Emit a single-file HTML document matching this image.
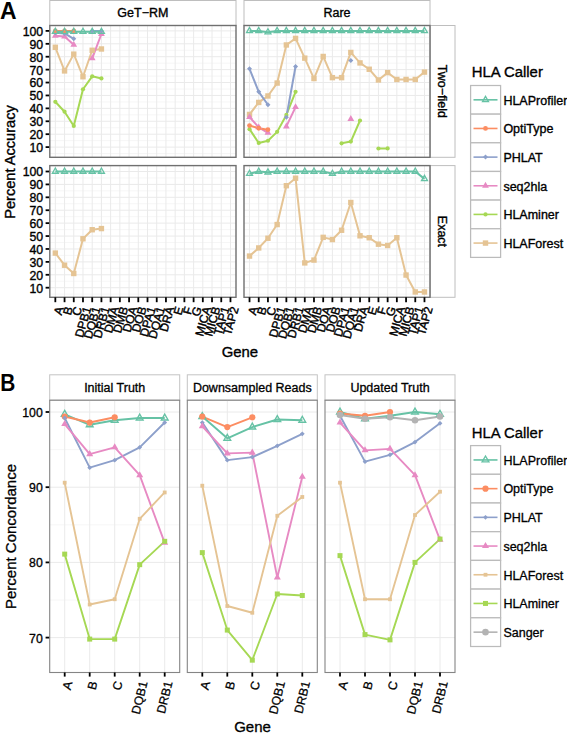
<!DOCTYPE html><html><head><meta charset="utf-8"><style>html,body{margin:0;padding:0;background:#fff;overflow:hidden}svg{display:block}text{font-family:"Liberation Sans",sans-serif;fill:#000}.ta{stroke:#000;stroke-width:0.35px}.tb{stroke:#000;stroke-width:0.3px}.bold{font-weight:bold}.tax{stroke:#000;stroke-width:0.4px}.tbx{stroke:#000;stroke-width:0.25px}</style></head><body>
<svg width="567" height="733" viewBox="0 0 567 733">
<rect width="567" height="733" fill="#fff"/>
<text transform="translate(0.1,19.4) scale(0.95,1)" font-size="24.2" class="bold">A</text>
<rect x="49.8" y="0.5" width="186.2" height="25" fill="#fff" stroke="#BEBEBE" stroke-width="1"/>
<text x="142.9" y="17.3" font-size="12.5" class="ta" text-anchor="middle">GeT−RM</text>
<rect x="244" y="0.5" width="186" height="25" fill="#fff" stroke="#BEBEBE" stroke-width="1"/>
<text x="337" y="17.3" font-size="12.5" class="ta" text-anchor="middle">Rare</text>
<rect x="430.2" y="25.5" width="24.8" height="131.8" fill="#fff" stroke="#BEBEBE" stroke-width="1"/>
<text transform="translate(438.2,91.4) rotate(90)" font-size="12.5" class="ta" text-anchor="middle">Two−field</text>
<rect x="430.2" y="165.6" width="24.8" height="131.7" fill="#fff" stroke="#BEBEBE" stroke-width="1"/>
<text transform="translate(438.2,231.45) rotate(90)" font-size="12.5" class="ta" text-anchor="middle">Exact</text>
<line x1="49.8" y1="153.55" x2="236" y2="153.55" stroke="#F4F4F4" stroke-width="0.8"/>
<line x1="49.8" y1="140.64" x2="236" y2="140.64" stroke="#F4F4F4" stroke-width="0.8"/>
<line x1="49.8" y1="127.73" x2="236" y2="127.73" stroke="#F4F4F4" stroke-width="0.8"/>
<line x1="49.8" y1="114.82" x2="236" y2="114.82" stroke="#F4F4F4" stroke-width="0.8"/>
<line x1="49.8" y1="101.91" x2="236" y2="101.91" stroke="#F4F4F4" stroke-width="0.8"/>
<line x1="49.8" y1="89" x2="236" y2="89" stroke="#F4F4F4" stroke-width="0.8"/>
<line x1="49.8" y1="76.09" x2="236" y2="76.09" stroke="#F4F4F4" stroke-width="0.8"/>
<line x1="49.8" y1="63.18" x2="236" y2="63.18" stroke="#F4F4F4" stroke-width="0.8"/>
<line x1="49.8" y1="50.27" x2="236" y2="50.27" stroke="#F4F4F4" stroke-width="0.8"/>
<line x1="49.8" y1="37.36" x2="236" y2="37.36" stroke="#F4F4F4" stroke-width="0.8"/>
<line x1="49.8" y1="147.1" x2="236" y2="147.1" stroke="#EAEAEA" stroke-width="1"/>
<line x1="49.8" y1="134.19" x2="236" y2="134.19" stroke="#EAEAEA" stroke-width="1"/>
<line x1="49.8" y1="121.28" x2="236" y2="121.28" stroke="#EAEAEA" stroke-width="1"/>
<line x1="49.8" y1="108.37" x2="236" y2="108.37" stroke="#EAEAEA" stroke-width="1"/>
<line x1="49.8" y1="95.45" x2="236" y2="95.45" stroke="#EAEAEA" stroke-width="1"/>
<line x1="49.8" y1="82.54" x2="236" y2="82.54" stroke="#EAEAEA" stroke-width="1"/>
<line x1="49.8" y1="69.63" x2="236" y2="69.63" stroke="#EAEAEA" stroke-width="1"/>
<line x1="49.8" y1="56.72" x2="236" y2="56.72" stroke="#EAEAEA" stroke-width="1"/>
<line x1="49.8" y1="43.81" x2="236" y2="43.81" stroke="#EAEAEA" stroke-width="1"/>
<line x1="49.8" y1="30.9" x2="236" y2="30.9" stroke="#EAEAEA" stroke-width="1"/>
<line x1="55.33" y1="25.5" x2="55.33" y2="157.3" stroke="#EAEAEA" stroke-width="1"/>
<line x1="64.55" y1="25.5" x2="64.55" y2="157.3" stroke="#EAEAEA" stroke-width="1"/>
<line x1="73.77" y1="25.5" x2="73.77" y2="157.3" stroke="#EAEAEA" stroke-width="1"/>
<line x1="82.98" y1="25.5" x2="82.98" y2="157.3" stroke="#EAEAEA" stroke-width="1"/>
<line x1="92.2" y1="25.5" x2="92.2" y2="157.3" stroke="#EAEAEA" stroke-width="1"/>
<line x1="101.42" y1="25.5" x2="101.42" y2="157.3" stroke="#EAEAEA" stroke-width="1"/>
<line x1="110.64" y1="25.5" x2="110.64" y2="157.3" stroke="#EAEAEA" stroke-width="1"/>
<line x1="119.86" y1="25.5" x2="119.86" y2="157.3" stroke="#EAEAEA" stroke-width="1"/>
<line x1="129.07" y1="25.5" x2="129.07" y2="157.3" stroke="#EAEAEA" stroke-width="1"/>
<line x1="138.29" y1="25.5" x2="138.29" y2="157.3" stroke="#EAEAEA" stroke-width="1"/>
<line x1="147.51" y1="25.5" x2="147.51" y2="157.3" stroke="#EAEAEA" stroke-width="1"/>
<line x1="156.73" y1="25.5" x2="156.73" y2="157.3" stroke="#EAEAEA" stroke-width="1"/>
<line x1="165.94" y1="25.5" x2="165.94" y2="157.3" stroke="#EAEAEA" stroke-width="1"/>
<line x1="175.16" y1="25.5" x2="175.16" y2="157.3" stroke="#EAEAEA" stroke-width="1"/>
<line x1="184.38" y1="25.5" x2="184.38" y2="157.3" stroke="#EAEAEA" stroke-width="1"/>
<line x1="193.6" y1="25.5" x2="193.6" y2="157.3" stroke="#EAEAEA" stroke-width="1"/>
<line x1="202.82" y1="25.5" x2="202.82" y2="157.3" stroke="#EAEAEA" stroke-width="1"/>
<line x1="212.03" y1="25.5" x2="212.03" y2="157.3" stroke="#EAEAEA" stroke-width="1"/>
<line x1="221.25" y1="25.5" x2="221.25" y2="157.3" stroke="#EAEAEA" stroke-width="1"/>
<line x1="230.47" y1="25.5" x2="230.47" y2="157.3" stroke="#EAEAEA" stroke-width="1"/>
<line x1="244" y1="153.55" x2="430" y2="153.55" stroke="#F4F4F4" stroke-width="0.8"/>
<line x1="244" y1="140.64" x2="430" y2="140.64" stroke="#F4F4F4" stroke-width="0.8"/>
<line x1="244" y1="127.73" x2="430" y2="127.73" stroke="#F4F4F4" stroke-width="0.8"/>
<line x1="244" y1="114.82" x2="430" y2="114.82" stroke="#F4F4F4" stroke-width="0.8"/>
<line x1="244" y1="101.91" x2="430" y2="101.91" stroke="#F4F4F4" stroke-width="0.8"/>
<line x1="244" y1="89" x2="430" y2="89" stroke="#F4F4F4" stroke-width="0.8"/>
<line x1="244" y1="76.09" x2="430" y2="76.09" stroke="#F4F4F4" stroke-width="0.8"/>
<line x1="244" y1="63.18" x2="430" y2="63.18" stroke="#F4F4F4" stroke-width="0.8"/>
<line x1="244" y1="50.27" x2="430" y2="50.27" stroke="#F4F4F4" stroke-width="0.8"/>
<line x1="244" y1="37.36" x2="430" y2="37.36" stroke="#F4F4F4" stroke-width="0.8"/>
<line x1="244" y1="147.1" x2="430" y2="147.1" stroke="#EAEAEA" stroke-width="1"/>
<line x1="244" y1="134.19" x2="430" y2="134.19" stroke="#EAEAEA" stroke-width="1"/>
<line x1="244" y1="121.28" x2="430" y2="121.28" stroke="#EAEAEA" stroke-width="1"/>
<line x1="244" y1="108.37" x2="430" y2="108.37" stroke="#EAEAEA" stroke-width="1"/>
<line x1="244" y1="95.45" x2="430" y2="95.45" stroke="#EAEAEA" stroke-width="1"/>
<line x1="244" y1="82.54" x2="430" y2="82.54" stroke="#EAEAEA" stroke-width="1"/>
<line x1="244" y1="69.63" x2="430" y2="69.63" stroke="#EAEAEA" stroke-width="1"/>
<line x1="244" y1="56.72" x2="430" y2="56.72" stroke="#EAEAEA" stroke-width="1"/>
<line x1="244" y1="43.81" x2="430" y2="43.81" stroke="#EAEAEA" stroke-width="1"/>
<line x1="244" y1="30.9" x2="430" y2="30.9" stroke="#EAEAEA" stroke-width="1"/>
<line x1="249.52" y1="25.5" x2="249.52" y2="157.3" stroke="#EAEAEA" stroke-width="1"/>
<line x1="258.73" y1="25.5" x2="258.73" y2="157.3" stroke="#EAEAEA" stroke-width="1"/>
<line x1="267.94" y1="25.5" x2="267.94" y2="157.3" stroke="#EAEAEA" stroke-width="1"/>
<line x1="277.15" y1="25.5" x2="277.15" y2="157.3" stroke="#EAEAEA" stroke-width="1"/>
<line x1="286.36" y1="25.5" x2="286.36" y2="157.3" stroke="#EAEAEA" stroke-width="1"/>
<line x1="295.56" y1="25.5" x2="295.56" y2="157.3" stroke="#EAEAEA" stroke-width="1"/>
<line x1="304.77" y1="25.5" x2="304.77" y2="157.3" stroke="#EAEAEA" stroke-width="1"/>
<line x1="313.98" y1="25.5" x2="313.98" y2="157.3" stroke="#EAEAEA" stroke-width="1"/>
<line x1="323.19" y1="25.5" x2="323.19" y2="157.3" stroke="#EAEAEA" stroke-width="1"/>
<line x1="332.4" y1="25.5" x2="332.4" y2="157.3" stroke="#EAEAEA" stroke-width="1"/>
<line x1="341.6" y1="25.5" x2="341.6" y2="157.3" stroke="#EAEAEA" stroke-width="1"/>
<line x1="350.81" y1="25.5" x2="350.81" y2="157.3" stroke="#EAEAEA" stroke-width="1"/>
<line x1="360.02" y1="25.5" x2="360.02" y2="157.3" stroke="#EAEAEA" stroke-width="1"/>
<line x1="369.23" y1="25.5" x2="369.23" y2="157.3" stroke="#EAEAEA" stroke-width="1"/>
<line x1="378.44" y1="25.5" x2="378.44" y2="157.3" stroke="#EAEAEA" stroke-width="1"/>
<line x1="387.64" y1="25.5" x2="387.64" y2="157.3" stroke="#EAEAEA" stroke-width="1"/>
<line x1="396.85" y1="25.5" x2="396.85" y2="157.3" stroke="#EAEAEA" stroke-width="1"/>
<line x1="406.06" y1="25.5" x2="406.06" y2="157.3" stroke="#EAEAEA" stroke-width="1"/>
<line x1="415.27" y1="25.5" x2="415.27" y2="157.3" stroke="#EAEAEA" stroke-width="1"/>
<line x1="424.48" y1="25.5" x2="424.48" y2="157.3" stroke="#EAEAEA" stroke-width="1"/>
<line x1="45.6" y1="147.1" x2="49.8" y2="147.1" stroke="#000" stroke-width="1.8"/>
<text x="43.2" y="152" font-size="12.3" class="ta" text-anchor="end">10</text>
<line x1="45.6" y1="134.19" x2="49.8" y2="134.19" stroke="#000" stroke-width="1.8"/>
<text x="43.2" y="139.09" font-size="12.3" class="ta" text-anchor="end">20</text>
<line x1="45.6" y1="121.28" x2="49.8" y2="121.28" stroke="#000" stroke-width="1.8"/>
<text x="43.2" y="126.18" font-size="12.3" class="ta" text-anchor="end">30</text>
<line x1="45.6" y1="108.37" x2="49.8" y2="108.37" stroke="#000" stroke-width="1.8"/>
<text x="43.2" y="113.27" font-size="12.3" class="ta" text-anchor="end">40</text>
<line x1="45.6" y1="95.45" x2="49.8" y2="95.45" stroke="#000" stroke-width="1.8"/>
<text x="43.2" y="100.35" font-size="12.3" class="ta" text-anchor="end">50</text>
<line x1="45.6" y1="82.54" x2="49.8" y2="82.54" stroke="#000" stroke-width="1.8"/>
<text x="43.2" y="87.44" font-size="12.3" class="ta" text-anchor="end">60</text>
<line x1="45.6" y1="69.63" x2="49.8" y2="69.63" stroke="#000" stroke-width="1.8"/>
<text x="43.2" y="74.53" font-size="12.3" class="ta" text-anchor="end">70</text>
<line x1="45.6" y1="56.72" x2="49.8" y2="56.72" stroke="#000" stroke-width="1.8"/>
<text x="43.2" y="61.62" font-size="12.3" class="ta" text-anchor="end">80</text>
<line x1="45.6" y1="43.81" x2="49.8" y2="43.81" stroke="#000" stroke-width="1.8"/>
<text x="43.2" y="48.71" font-size="12.3" class="ta" text-anchor="end">90</text>
<line x1="45.6" y1="30.9" x2="49.8" y2="30.9" stroke="#000" stroke-width="1.8"/>
<text x="43.2" y="35.8" font-size="12.3" class="ta" text-anchor="end">100</text>
<line x1="49.8" y1="294.15" x2="236" y2="294.15" stroke="#F4F4F4" stroke-width="0.8"/>
<line x1="49.8" y1="281.24" x2="236" y2="281.24" stroke="#F4F4F4" stroke-width="0.8"/>
<line x1="49.8" y1="268.33" x2="236" y2="268.33" stroke="#F4F4F4" stroke-width="0.8"/>
<line x1="49.8" y1="255.42" x2="236" y2="255.42" stroke="#F4F4F4" stroke-width="0.8"/>
<line x1="49.8" y1="242.51" x2="236" y2="242.51" stroke="#F4F4F4" stroke-width="0.8"/>
<line x1="49.8" y1="229.6" x2="236" y2="229.6" stroke="#F4F4F4" stroke-width="0.8"/>
<line x1="49.8" y1="216.69" x2="236" y2="216.69" stroke="#F4F4F4" stroke-width="0.8"/>
<line x1="49.8" y1="203.78" x2="236" y2="203.78" stroke="#F4F4F4" stroke-width="0.8"/>
<line x1="49.8" y1="190.87" x2="236" y2="190.87" stroke="#F4F4F4" stroke-width="0.8"/>
<line x1="49.8" y1="177.96" x2="236" y2="177.96" stroke="#F4F4F4" stroke-width="0.8"/>
<line x1="49.8" y1="287.7" x2="236" y2="287.7" stroke="#EAEAEA" stroke-width="1"/>
<line x1="49.8" y1="274.79" x2="236" y2="274.79" stroke="#EAEAEA" stroke-width="1"/>
<line x1="49.8" y1="261.88" x2="236" y2="261.88" stroke="#EAEAEA" stroke-width="1"/>
<line x1="49.8" y1="248.97" x2="236" y2="248.97" stroke="#EAEAEA" stroke-width="1"/>
<line x1="49.8" y1="236.06" x2="236" y2="236.06" stroke="#EAEAEA" stroke-width="1"/>
<line x1="49.8" y1="223.14" x2="236" y2="223.14" stroke="#EAEAEA" stroke-width="1"/>
<line x1="49.8" y1="210.23" x2="236" y2="210.23" stroke="#EAEAEA" stroke-width="1"/>
<line x1="49.8" y1="197.32" x2="236" y2="197.32" stroke="#EAEAEA" stroke-width="1"/>
<line x1="49.8" y1="184.41" x2="236" y2="184.41" stroke="#EAEAEA" stroke-width="1"/>
<line x1="49.8" y1="171.5" x2="236" y2="171.5" stroke="#EAEAEA" stroke-width="1"/>
<line x1="55.33" y1="165.6" x2="55.33" y2="297.3" stroke="#EAEAEA" stroke-width="1"/>
<line x1="64.55" y1="165.6" x2="64.55" y2="297.3" stroke="#EAEAEA" stroke-width="1"/>
<line x1="73.77" y1="165.6" x2="73.77" y2="297.3" stroke="#EAEAEA" stroke-width="1"/>
<line x1="82.98" y1="165.6" x2="82.98" y2="297.3" stroke="#EAEAEA" stroke-width="1"/>
<line x1="92.2" y1="165.6" x2="92.2" y2="297.3" stroke="#EAEAEA" stroke-width="1"/>
<line x1="101.42" y1="165.6" x2="101.42" y2="297.3" stroke="#EAEAEA" stroke-width="1"/>
<line x1="110.64" y1="165.6" x2="110.64" y2="297.3" stroke="#EAEAEA" stroke-width="1"/>
<line x1="119.86" y1="165.6" x2="119.86" y2="297.3" stroke="#EAEAEA" stroke-width="1"/>
<line x1="129.07" y1="165.6" x2="129.07" y2="297.3" stroke="#EAEAEA" stroke-width="1"/>
<line x1="138.29" y1="165.6" x2="138.29" y2="297.3" stroke="#EAEAEA" stroke-width="1"/>
<line x1="147.51" y1="165.6" x2="147.51" y2="297.3" stroke="#EAEAEA" stroke-width="1"/>
<line x1="156.73" y1="165.6" x2="156.73" y2="297.3" stroke="#EAEAEA" stroke-width="1"/>
<line x1="165.94" y1="165.6" x2="165.94" y2="297.3" stroke="#EAEAEA" stroke-width="1"/>
<line x1="175.16" y1="165.6" x2="175.16" y2="297.3" stroke="#EAEAEA" stroke-width="1"/>
<line x1="184.38" y1="165.6" x2="184.38" y2="297.3" stroke="#EAEAEA" stroke-width="1"/>
<line x1="193.6" y1="165.6" x2="193.6" y2="297.3" stroke="#EAEAEA" stroke-width="1"/>
<line x1="202.82" y1="165.6" x2="202.82" y2="297.3" stroke="#EAEAEA" stroke-width="1"/>
<line x1="212.03" y1="165.6" x2="212.03" y2="297.3" stroke="#EAEAEA" stroke-width="1"/>
<line x1="221.25" y1="165.6" x2="221.25" y2="297.3" stroke="#EAEAEA" stroke-width="1"/>
<line x1="230.47" y1="165.6" x2="230.47" y2="297.3" stroke="#EAEAEA" stroke-width="1"/>
<line x1="244" y1="294.15" x2="430" y2="294.15" stroke="#F4F4F4" stroke-width="0.8"/>
<line x1="244" y1="281.24" x2="430" y2="281.24" stroke="#F4F4F4" stroke-width="0.8"/>
<line x1="244" y1="268.33" x2="430" y2="268.33" stroke="#F4F4F4" stroke-width="0.8"/>
<line x1="244" y1="255.42" x2="430" y2="255.42" stroke="#F4F4F4" stroke-width="0.8"/>
<line x1="244" y1="242.51" x2="430" y2="242.51" stroke="#F4F4F4" stroke-width="0.8"/>
<line x1="244" y1="229.6" x2="430" y2="229.6" stroke="#F4F4F4" stroke-width="0.8"/>
<line x1="244" y1="216.69" x2="430" y2="216.69" stroke="#F4F4F4" stroke-width="0.8"/>
<line x1="244" y1="203.78" x2="430" y2="203.78" stroke="#F4F4F4" stroke-width="0.8"/>
<line x1="244" y1="190.87" x2="430" y2="190.87" stroke="#F4F4F4" stroke-width="0.8"/>
<line x1="244" y1="177.96" x2="430" y2="177.96" stroke="#F4F4F4" stroke-width="0.8"/>
<line x1="244" y1="287.7" x2="430" y2="287.7" stroke="#EAEAEA" stroke-width="1"/>
<line x1="244" y1="274.79" x2="430" y2="274.79" stroke="#EAEAEA" stroke-width="1"/>
<line x1="244" y1="261.88" x2="430" y2="261.88" stroke="#EAEAEA" stroke-width="1"/>
<line x1="244" y1="248.97" x2="430" y2="248.97" stroke="#EAEAEA" stroke-width="1"/>
<line x1="244" y1="236.06" x2="430" y2="236.06" stroke="#EAEAEA" stroke-width="1"/>
<line x1="244" y1="223.14" x2="430" y2="223.14" stroke="#EAEAEA" stroke-width="1"/>
<line x1="244" y1="210.23" x2="430" y2="210.23" stroke="#EAEAEA" stroke-width="1"/>
<line x1="244" y1="197.32" x2="430" y2="197.32" stroke="#EAEAEA" stroke-width="1"/>
<line x1="244" y1="184.41" x2="430" y2="184.41" stroke="#EAEAEA" stroke-width="1"/>
<line x1="244" y1="171.5" x2="430" y2="171.5" stroke="#EAEAEA" stroke-width="1"/>
<line x1="249.52" y1="165.6" x2="249.52" y2="297.3" stroke="#EAEAEA" stroke-width="1"/>
<line x1="258.73" y1="165.6" x2="258.73" y2="297.3" stroke="#EAEAEA" stroke-width="1"/>
<line x1="267.94" y1="165.6" x2="267.94" y2="297.3" stroke="#EAEAEA" stroke-width="1"/>
<line x1="277.15" y1="165.6" x2="277.15" y2="297.3" stroke="#EAEAEA" stroke-width="1"/>
<line x1="286.36" y1="165.6" x2="286.36" y2="297.3" stroke="#EAEAEA" stroke-width="1"/>
<line x1="295.56" y1="165.6" x2="295.56" y2="297.3" stroke="#EAEAEA" stroke-width="1"/>
<line x1="304.77" y1="165.6" x2="304.77" y2="297.3" stroke="#EAEAEA" stroke-width="1"/>
<line x1="313.98" y1="165.6" x2="313.98" y2="297.3" stroke="#EAEAEA" stroke-width="1"/>
<line x1="323.19" y1="165.6" x2="323.19" y2="297.3" stroke="#EAEAEA" stroke-width="1"/>
<line x1="332.4" y1="165.6" x2="332.4" y2="297.3" stroke="#EAEAEA" stroke-width="1"/>
<line x1="341.6" y1="165.6" x2="341.6" y2="297.3" stroke="#EAEAEA" stroke-width="1"/>
<line x1="350.81" y1="165.6" x2="350.81" y2="297.3" stroke="#EAEAEA" stroke-width="1"/>
<line x1="360.02" y1="165.6" x2="360.02" y2="297.3" stroke="#EAEAEA" stroke-width="1"/>
<line x1="369.23" y1="165.6" x2="369.23" y2="297.3" stroke="#EAEAEA" stroke-width="1"/>
<line x1="378.44" y1="165.6" x2="378.44" y2="297.3" stroke="#EAEAEA" stroke-width="1"/>
<line x1="387.64" y1="165.6" x2="387.64" y2="297.3" stroke="#EAEAEA" stroke-width="1"/>
<line x1="396.85" y1="165.6" x2="396.85" y2="297.3" stroke="#EAEAEA" stroke-width="1"/>
<line x1="406.06" y1="165.6" x2="406.06" y2="297.3" stroke="#EAEAEA" stroke-width="1"/>
<line x1="415.27" y1="165.6" x2="415.27" y2="297.3" stroke="#EAEAEA" stroke-width="1"/>
<line x1="424.48" y1="165.6" x2="424.48" y2="297.3" stroke="#EAEAEA" stroke-width="1"/>
<line x1="45.6" y1="287.7" x2="49.8" y2="287.7" stroke="#000" stroke-width="1.8"/>
<text x="43.2" y="292.6" font-size="12.3" class="ta" text-anchor="end">10</text>
<line x1="45.6" y1="274.79" x2="49.8" y2="274.79" stroke="#000" stroke-width="1.8"/>
<text x="43.2" y="279.69" font-size="12.3" class="ta" text-anchor="end">20</text>
<line x1="45.6" y1="261.88" x2="49.8" y2="261.88" stroke="#000" stroke-width="1.8"/>
<text x="43.2" y="266.78" font-size="12.3" class="ta" text-anchor="end">30</text>
<line x1="45.6" y1="248.97" x2="49.8" y2="248.97" stroke="#000" stroke-width="1.8"/>
<text x="43.2" y="253.87" font-size="12.3" class="ta" text-anchor="end">40</text>
<line x1="45.6" y1="236.06" x2="49.8" y2="236.06" stroke="#000" stroke-width="1.8"/>
<text x="43.2" y="240.96" font-size="12.3" class="ta" text-anchor="end">50</text>
<line x1="45.6" y1="223.14" x2="49.8" y2="223.14" stroke="#000" stroke-width="1.8"/>
<text x="43.2" y="228.04" font-size="12.3" class="ta" text-anchor="end">60</text>
<line x1="45.6" y1="210.23" x2="49.8" y2="210.23" stroke="#000" stroke-width="1.8"/>
<text x="43.2" y="215.13" font-size="12.3" class="ta" text-anchor="end">70</text>
<line x1="45.6" y1="197.32" x2="49.8" y2="197.32" stroke="#000" stroke-width="1.8"/>
<text x="43.2" y="202.22" font-size="12.3" class="ta" text-anchor="end">80</text>
<line x1="45.6" y1="184.41" x2="49.8" y2="184.41" stroke="#000" stroke-width="1.8"/>
<text x="43.2" y="189.31" font-size="12.3" class="ta" text-anchor="end">90</text>
<line x1="45.6" y1="171.5" x2="49.8" y2="171.5" stroke="#000" stroke-width="1.8"/>
<text x="43.2" y="176.4" font-size="12.3" class="ta" text-anchor="end">100</text>
<svg x="49.8" y="25.5" width="186.2" height="131.8" viewBox="49.8 25.5 186.2 131.8" overflow="hidden">
<polyline points="55.33,47.3 64.55,70.92 73.77,54.14 82.98,76.73 92.2,50.27 101.42,48.98" fill="none" stroke="#E5C494" stroke-width="2.0" stroke-linejoin="round"/>
<polyline points="55.33,101.78 64.55,111.72 73.77,125.92 82.98,89.26 92.2,76.35 101.42,78.41" fill="none" stroke="#A6D854" stroke-width="2.0" stroke-linejoin="round"/>
<polyline points="55.33,35.68 64.55,36.58 73.77,44.84" fill="none" stroke="#E78AC3" stroke-width="2.0" stroke-linejoin="round"/><polyline points="92.2,58.4 101.42,34" fill="none" stroke="#E78AC3" stroke-width="2.0" stroke-linejoin="round"/>
<polyline points="55.33,32.84 64.55,33.48 73.77,38.78" fill="none" stroke="#8DA0CB" stroke-width="2.0" stroke-linejoin="round"/><polyline points="92.2,30.9 101.42,30.9" fill="none" stroke="#8DA0CB" stroke-width="2.0" stroke-linejoin="round"/>
<polyline points="55.33,30.9 64.55,30.9 73.77,30.9" fill="none" stroke="#FC8D62" stroke-width="2.0" stroke-linejoin="round"/>
<polyline points="55.33,31.67 64.55,31.67 73.77,31.67 82.98,31.67 92.2,31.67 101.42,31.67" fill="none" stroke="#66C2A5" stroke-width="2.0" stroke-linejoin="round"/>
<rect x="52.63" y="44.6" width="5.4" height="5.4" fill="#E5C494"/><rect x="61.85" y="68.22" width="5.4" height="5.4" fill="#E5C494"/><rect x="71.07" y="51.44" width="5.4" height="5.4" fill="#E5C494"/><rect x="80.28" y="74.03" width="5.4" height="5.4" fill="#E5C494"/><rect x="89.5" y="47.57" width="5.4" height="5.4" fill="#E5C494"/><rect x="98.72" y="46.28" width="5.4" height="5.4" fill="#E5C494"/>
<circle cx="55.33" cy="101.78" r="2.1" fill="#A6D854"/><circle cx="64.55" cy="111.72" r="2.1" fill="#A6D854"/><circle cx="73.77" cy="125.92" r="2.1" fill="#A6D854"/><circle cx="82.98" cy="89.26" r="2.1" fill="#A6D854"/><circle cx="92.2" cy="76.35" r="2.1" fill="#A6D854"/><circle cx="101.42" cy="78.41" r="2.1" fill="#A6D854"/>
<polygon points="55.33,31.75 51.93,37.64 58.73,37.64" fill="#E78AC3"/><polygon points="64.55,32.65 61.15,38.54 67.95,38.54" fill="#E78AC3"/><polygon points="73.77,40.92 70.37,46.81 77.17,46.81" fill="#E78AC3"/><polygon points="92.2,54.47 88.8,60.36 95.6,60.36" fill="#E78AC3"/><polygon points="101.42,30.07 98.02,35.96 104.82,35.96" fill="#E78AC3"/>
<polygon points="55.33,30.34 57.83,32.84 55.33,35.34 52.83,32.84" fill="#8DA0CB"/><polygon points="64.55,30.98 67.05,33.48 64.55,35.98 62.05,33.48" fill="#8DA0CB"/><polygon points="73.77,36.28 76.27,38.78 73.77,41.28 71.27,38.78" fill="#8DA0CB"/><polygon points="92.2,28.4 94.7,30.9 92.2,33.4 89.7,30.9" fill="#8DA0CB"/><polygon points="101.42,28.4 103.92,30.9 101.42,33.4 98.92,30.9" fill="#8DA0CB"/>
<circle cx="55.33" cy="30.9" r="2.4" fill="#FC8D62"/><circle cx="64.55" cy="30.9" r="2.4" fill="#FC8D62"/><circle cx="73.77" cy="30.9" r="2.4" fill="#FC8D62"/>
<polygon points="55.33,28.21 52.33,33.41 58.33,33.41" fill="none" stroke="#66C2A5" stroke-width="1.3"/><polygon points="64.55,28.21 61.55,33.41 67.55,33.41" fill="none" stroke="#66C2A5" stroke-width="1.3"/><polygon points="73.77,28.21 70.77,33.41 76.77,33.41" fill="none" stroke="#66C2A5" stroke-width="1.3"/><polygon points="82.98,28.21 79.98,33.41 85.98,33.41" fill="none" stroke="#66C2A5" stroke-width="1.3"/><polygon points="92.2,28.21 89.2,33.41 95.2,33.41" fill="none" stroke="#66C2A5" stroke-width="1.3"/><polygon points="101.42,28.21 98.42,33.41 104.42,33.41" fill="none" stroke="#66C2A5" stroke-width="1.3"/>
</svg>
<rect x="49.8" y="25.5" width="186.2" height="131.8" fill="none" stroke="#707070" stroke-width="1.4"/>
<svg x="244" y="25.5" width="186" height="131.8" viewBox="244 25.5 186 131.8" overflow="hidden">
<polyline points="249.52,114.43 258.73,102.43 267.94,95.97 277.15,83.06 286.36,44.97 295.56,38.39 304.77,58.14 313.98,78.54 323.19,56.46 332.4,77.64 341.6,77.64 350.81,52.46 360.02,62.92 369.23,69.25 378.44,79.96 387.64,72.6 396.85,79.45 406.06,79.45 415.27,79.45 424.48,72.09" fill="none" stroke="#E5C494" stroke-width="2.0" stroke-linejoin="round"/>
<polyline points="249.52,129.15 258.73,142.97 267.94,140.77 277.15,131.86 286.36,114.95 295.56,91.84" fill="none" stroke="#A6D854" stroke-width="2.0" stroke-linejoin="round"/><polyline points="341.6,143.35 350.81,141.55 360.02,120.5" fill="none" stroke="#A6D854" stroke-width="2.0" stroke-linejoin="round"/><polyline points="378.44,148.52 387.64,148.39" fill="none" stroke="#A6D854" stroke-width="2.0" stroke-linejoin="round"/>
<polyline points="249.52,117.15 258.73,127.35 267.94,132.77" fill="none" stroke="#E78AC3" stroke-width="2.0" stroke-linejoin="round"/><polyline points="286.36,126.44 295.56,107.07" fill="none" stroke="#E78AC3" stroke-width="2.0" stroke-linejoin="round"/>
<polyline points="249.52,68.86 258.73,91.84 267.94,104.75" fill="none" stroke="#8DA0CB" stroke-width="2.0" stroke-linejoin="round"/><polyline points="286.36,117.15 295.56,66.53" fill="none" stroke="#8DA0CB" stroke-width="2.0" stroke-linejoin="round"/>
<polyline points="249.52,125.54 258.73,128.25 267.94,129.67" fill="none" stroke="#FC8D62" stroke-width="2.0" stroke-linejoin="round"/>
<polyline points="249.52,30.9 258.73,30.9 267.94,32.19 277.15,30.9 286.36,30.9 295.56,30.9 304.77,30.9 313.98,30.9 323.19,30.9 332.4,30.9 341.6,30.9 350.81,30.9 360.02,30.9 369.23,30.9 378.44,30.9 387.64,30.9 396.85,30.9 406.06,30.9 415.27,30.9 424.48,30.9" fill="none" stroke="#66C2A5" stroke-width="2.0" stroke-linejoin="round"/>
<rect x="246.82" y="111.73" width="5.4" height="5.4" fill="#E5C494"/><rect x="256.03" y="99.73" width="5.4" height="5.4" fill="#E5C494"/><rect x="265.24" y="93.27" width="5.4" height="5.4" fill="#E5C494"/><rect x="274.45" y="80.36" width="5.4" height="5.4" fill="#E5C494"/><rect x="283.66" y="42.27" width="5.4" height="5.4" fill="#E5C494"/><rect x="292.86" y="35.69" width="5.4" height="5.4" fill="#E5C494"/><rect x="302.07" y="55.44" width="5.4" height="5.4" fill="#E5C494"/><rect x="311.28" y="75.84" width="5.4" height="5.4" fill="#E5C494"/><rect x="320.49" y="53.76" width="5.4" height="5.4" fill="#E5C494"/><rect x="329.7" y="74.94" width="5.4" height="5.4" fill="#E5C494"/><rect x="338.9" y="74.94" width="5.4" height="5.4" fill="#E5C494"/><rect x="348.11" y="49.76" width="5.4" height="5.4" fill="#E5C494"/><rect x="357.32" y="60.22" width="5.4" height="5.4" fill="#E5C494"/><rect x="366.53" y="66.55" width="5.4" height="5.4" fill="#E5C494"/><rect x="375.74" y="77.26" width="5.4" height="5.4" fill="#E5C494"/><rect x="384.94" y="69.9" width="5.4" height="5.4" fill="#E5C494"/><rect x="394.15" y="76.75" width="5.4" height="5.4" fill="#E5C494"/><rect x="403.36" y="76.75" width="5.4" height="5.4" fill="#E5C494"/><rect x="412.57" y="76.75" width="5.4" height="5.4" fill="#E5C494"/><rect x="421.78" y="69.39" width="5.4" height="5.4" fill="#E5C494"/>
<circle cx="249.52" cy="129.15" r="2.1" fill="#A6D854"/><circle cx="258.73" cy="142.97" r="2.1" fill="#A6D854"/><circle cx="267.94" cy="140.77" r="2.1" fill="#A6D854"/><circle cx="277.15" cy="131.86" r="2.1" fill="#A6D854"/><circle cx="286.36" cy="114.95" r="2.1" fill="#A6D854"/><circle cx="295.56" cy="91.84" r="2.1" fill="#A6D854"/><circle cx="341.6" cy="143.35" r="2.1" fill="#A6D854"/><circle cx="350.81" cy="141.55" r="2.1" fill="#A6D854"/><circle cx="360.02" cy="120.5" r="2.1" fill="#A6D854"/><circle cx="378.44" cy="148.52" r="2.1" fill="#A6D854"/><circle cx="387.64" cy="148.39" r="2.1" fill="#A6D854"/>
<polygon points="249.52,113.22 246.12,119.11 252.92,119.11" fill="#E78AC3"/><polygon points="258.73,123.42 255.33,129.31 262.13,129.31" fill="#E78AC3"/><polygon points="267.94,128.84 264.54,134.73 271.34,134.73" fill="#E78AC3"/><polygon points="286.36,122.52 282.96,128.4 289.76,128.4" fill="#E78AC3"/><polygon points="295.56,103.15 292.16,109.04 298.96,109.04" fill="#E78AC3"/><polygon points="350.81,115.03 347.41,120.92 354.21,120.92" fill="#E78AC3"/>
<polygon points="249.52,66.36 252.02,68.86 249.52,71.36 247.02,68.86" fill="#8DA0CB"/><polygon points="258.73,89.34 261.23,91.84 258.73,94.34 256.23,91.84" fill="#8DA0CB"/><polygon points="267.94,102.25 270.44,104.75 267.94,107.25 265.44,104.75" fill="#8DA0CB"/><polygon points="286.36,114.65 288.86,117.15 286.36,119.65 283.86,117.15" fill="#8DA0CB"/><polygon points="295.56,64.03 298.06,66.53 295.56,69.03 293.06,66.53" fill="#8DA0CB"/><polygon points="350.81,57.97 353.31,60.47 350.81,62.97 348.31,60.47" fill="#8DA0CB"/>
<circle cx="249.52" cy="125.54" r="2.4" fill="#FC8D62"/><circle cx="258.73" cy="128.25" r="2.4" fill="#FC8D62"/><circle cx="267.94" cy="129.67" r="2.4" fill="#FC8D62"/>
<polygon points="249.52,27.44 246.52,32.63 252.52,32.63" fill="none" stroke="#66C2A5" stroke-width="1.3"/><polygon points="258.73,27.44 255.73,32.63 261.73,32.63" fill="none" stroke="#66C2A5" stroke-width="1.3"/><polygon points="267.94,28.73 264.94,33.92 270.94,33.92" fill="none" stroke="#66C2A5" stroke-width="1.3"/><polygon points="277.15,27.44 274.15,32.63 280.15,32.63" fill="none" stroke="#66C2A5" stroke-width="1.3"/><polygon points="286.36,27.44 283.36,32.63 289.36,32.63" fill="none" stroke="#66C2A5" stroke-width="1.3"/><polygon points="295.56,27.44 292.56,32.63 298.56,32.63" fill="none" stroke="#66C2A5" stroke-width="1.3"/><polygon points="304.77,27.44 301.77,32.63 307.77,32.63" fill="none" stroke="#66C2A5" stroke-width="1.3"/><polygon points="313.98,27.44 310.98,32.63 316.98,32.63" fill="none" stroke="#66C2A5" stroke-width="1.3"/><polygon points="323.19,27.44 320.19,32.63 326.19,32.63" fill="none" stroke="#66C2A5" stroke-width="1.3"/><polygon points="332.4,27.44 329.4,32.63 335.4,32.63" fill="none" stroke="#66C2A5" stroke-width="1.3"/><polygon points="341.6,27.44 338.6,32.63 344.6,32.63" fill="none" stroke="#66C2A5" stroke-width="1.3"/><polygon points="350.81,27.44 347.81,32.63 353.81,32.63" fill="none" stroke="#66C2A5" stroke-width="1.3"/><polygon points="360.02,27.44 357.02,32.63 363.02,32.63" fill="none" stroke="#66C2A5" stroke-width="1.3"/><polygon points="369.23,27.44 366.23,32.63 372.23,32.63" fill="none" stroke="#66C2A5" stroke-width="1.3"/><polygon points="378.44,27.44 375.44,32.63 381.44,32.63" fill="none" stroke="#66C2A5" stroke-width="1.3"/><polygon points="387.64,27.44 384.64,32.63 390.64,32.63" fill="none" stroke="#66C2A5" stroke-width="1.3"/><polygon points="396.85,27.44 393.85,32.63 399.85,32.63" fill="none" stroke="#66C2A5" stroke-width="1.3"/><polygon points="406.06,27.44 403.06,32.63 409.06,32.63" fill="none" stroke="#66C2A5" stroke-width="1.3"/><polygon points="415.27,27.44 412.27,32.63 418.27,32.63" fill="none" stroke="#66C2A5" stroke-width="1.3"/><polygon points="424.48,27.44 421.48,32.63 427.48,32.63" fill="none" stroke="#66C2A5" stroke-width="1.3"/>
</svg>
<rect x="244" y="25.5" width="186" height="131.8" fill="none" stroke="#707070" stroke-width="1.4"/>
<svg x="49.8" y="165.6" width="186.2" height="131.7" viewBox="49.8 165.6 186.2 131.7" overflow="hidden">
<polyline points="55.33,253.1 64.55,265.23 73.77,273.5 82.98,238.77 92.2,229.73 101.42,228.57" fill="none" stroke="#E5C494" stroke-width="2.0" stroke-linejoin="round"/>
<polyline points="55.33,171.5 64.55,171.5 73.77,171.5 82.98,171.5 92.2,171.5 101.42,171.5" fill="none" stroke="#66C2A5" stroke-width="2.0" stroke-linejoin="round"/>
<rect x="52.63" y="250.4" width="5.4" height="5.4" fill="#E5C494"/><rect x="61.85" y="262.53" width="5.4" height="5.4" fill="#E5C494"/><rect x="71.07" y="270.8" width="5.4" height="5.4" fill="#E5C494"/><rect x="80.28" y="236.07" width="5.4" height="5.4" fill="#E5C494"/><rect x="89.5" y="227.03" width="5.4" height="5.4" fill="#E5C494"/><rect x="98.72" y="225.87" width="5.4" height="5.4" fill="#E5C494"/>
<polygon points="55.33,168.04 52.33,173.23 58.33,173.23" fill="none" stroke="#66C2A5" stroke-width="1.3"/><polygon points="64.55,168.04 61.55,173.23 67.55,173.23" fill="none" stroke="#66C2A5" stroke-width="1.3"/><polygon points="73.77,168.04 70.77,173.23 76.77,173.23" fill="none" stroke="#66C2A5" stroke-width="1.3"/><polygon points="82.98,168.04 79.98,173.23 85.98,173.23" fill="none" stroke="#66C2A5" stroke-width="1.3"/><polygon points="92.2,168.04 89.2,173.23 95.2,173.23" fill="none" stroke="#66C2A5" stroke-width="1.3"/><polygon points="101.42,168.04 98.42,173.23 104.42,173.23" fill="none" stroke="#66C2A5" stroke-width="1.3"/>
</svg>
<rect x="49.8" y="165.6" width="186.2" height="131.7" fill="none" stroke="#707070" stroke-width="1.4"/>
<svg x="244" y="165.6" width="186" height="131.7" viewBox="244 165.6 186 131.7" overflow="hidden">
<polyline points="249.52,256.07 258.73,247.93 267.94,238.25 277.15,224.56 286.36,185.7 295.56,178.21 304.77,262.91 313.98,260.07 323.19,237.35 332.4,239.54 341.6,230.25 350.81,202.49 360.02,235.8 369.23,237.73 378.44,244.19 387.64,245.48 396.85,237.73 406.06,275.05 415.27,291.96 424.48,291.96" fill="none" stroke="#E5C494" stroke-width="2.0" stroke-linejoin="round"/>
<polyline points="249.52,173.69 258.73,171.5 267.94,172.27 277.15,171.5 286.36,171.5 295.56,171.5 304.77,171.5 313.98,171.5 323.19,171.5 332.4,173.69 341.6,171.5 350.81,171.5 360.02,171.5 369.23,171.5 378.44,171.5 387.64,171.5 396.85,171.5 406.06,171.5 415.27,171.5 424.48,178.86" fill="none" stroke="#66C2A5" stroke-width="2.0" stroke-linejoin="round"/>
<rect x="246.82" y="253.37" width="5.4" height="5.4" fill="#E5C494"/><rect x="256.03" y="245.23" width="5.4" height="5.4" fill="#E5C494"/><rect x="265.24" y="235.55" width="5.4" height="5.4" fill="#E5C494"/><rect x="274.45" y="221.86" width="5.4" height="5.4" fill="#E5C494"/><rect x="283.66" y="183" width="5.4" height="5.4" fill="#E5C494"/><rect x="292.86" y="175.51" width="5.4" height="5.4" fill="#E5C494"/><rect x="302.07" y="260.21" width="5.4" height="5.4" fill="#E5C494"/><rect x="311.28" y="257.37" width="5.4" height="5.4" fill="#E5C494"/><rect x="320.49" y="234.65" width="5.4" height="5.4" fill="#E5C494"/><rect x="329.7" y="236.84" width="5.4" height="5.4" fill="#E5C494"/><rect x="338.9" y="227.55" width="5.4" height="5.4" fill="#E5C494"/><rect x="348.11" y="199.79" width="5.4" height="5.4" fill="#E5C494"/><rect x="357.32" y="233.1" width="5.4" height="5.4" fill="#E5C494"/><rect x="366.53" y="235.03" width="5.4" height="5.4" fill="#E5C494"/><rect x="375.74" y="241.49" width="5.4" height="5.4" fill="#E5C494"/><rect x="384.94" y="242.78" width="5.4" height="5.4" fill="#E5C494"/><rect x="394.15" y="235.03" width="5.4" height="5.4" fill="#E5C494"/><rect x="403.36" y="272.35" width="5.4" height="5.4" fill="#E5C494"/><rect x="412.57" y="289.26" width="5.4" height="5.4" fill="#E5C494"/><rect x="421.78" y="289.26" width="5.4" height="5.4" fill="#E5C494"/>
<polygon points="249.52,170.23 246.52,175.43 252.52,175.43" fill="none" stroke="#66C2A5" stroke-width="1.3"/><polygon points="258.73,168.04 255.73,173.23 261.73,173.23" fill="none" stroke="#66C2A5" stroke-width="1.3"/><polygon points="267.94,168.81 264.94,174.01 270.94,174.01" fill="none" stroke="#66C2A5" stroke-width="1.3"/><polygon points="277.15,168.04 274.15,173.23 280.15,173.23" fill="none" stroke="#66C2A5" stroke-width="1.3"/><polygon points="286.36,168.04 283.36,173.23 289.36,173.23" fill="none" stroke="#66C2A5" stroke-width="1.3"/><polygon points="295.56,168.04 292.56,173.23 298.56,173.23" fill="none" stroke="#66C2A5" stroke-width="1.3"/><polygon points="304.77,168.04 301.77,173.23 307.77,173.23" fill="none" stroke="#66C2A5" stroke-width="1.3"/><polygon points="313.98,168.04 310.98,173.23 316.98,173.23" fill="none" stroke="#66C2A5" stroke-width="1.3"/><polygon points="323.19,168.04 320.19,173.23 326.19,173.23" fill="none" stroke="#66C2A5" stroke-width="1.3"/><polygon points="332.4,170.23 329.4,175.43 335.4,175.43" fill="none" stroke="#66C2A5" stroke-width="1.3"/><polygon points="341.6,168.04 338.6,173.23 344.6,173.23" fill="none" stroke="#66C2A5" stroke-width="1.3"/><polygon points="350.81,168.04 347.81,173.23 353.81,173.23" fill="none" stroke="#66C2A5" stroke-width="1.3"/><polygon points="360.02,168.04 357.02,173.23 363.02,173.23" fill="none" stroke="#66C2A5" stroke-width="1.3"/><polygon points="369.23,168.04 366.23,173.23 372.23,173.23" fill="none" stroke="#66C2A5" stroke-width="1.3"/><polygon points="378.44,168.04 375.44,173.23 381.44,173.23" fill="none" stroke="#66C2A5" stroke-width="1.3"/><polygon points="387.64,168.04 384.64,173.23 390.64,173.23" fill="none" stroke="#66C2A5" stroke-width="1.3"/><polygon points="396.85,168.04 393.85,173.23 399.85,173.23" fill="none" stroke="#66C2A5" stroke-width="1.3"/><polygon points="406.06,168.04 403.06,173.23 409.06,173.23" fill="none" stroke="#66C2A5" stroke-width="1.3"/><polygon points="415.27,168.04 412.27,173.23 418.27,173.23" fill="none" stroke="#66C2A5" stroke-width="1.3"/><polygon points="424.48,175.4 421.48,180.59 427.48,180.59" fill="none" stroke="#66C2A5" stroke-width="1.3"/>
</svg>
<rect x="244" y="165.6" width="186" height="131.7" fill="none" stroke="#707070" stroke-width="1.4"/>
<line x1="55.33" y1="297.3" x2="55.33" y2="302.2" stroke="#000" stroke-width="1.8"/>
<text transform="translate(59.83,307) rotate(-74.0)" font-size="12.0" class="tax" text-anchor="end" dy="4">A</text>
<line x1="64.55" y1="297.3" x2="64.55" y2="302.2" stroke="#000" stroke-width="1.8"/>
<text transform="translate(69.05,307) rotate(-74.0)" font-size="12.0" class="tax" text-anchor="end" dy="4">B</text>
<line x1="73.77" y1="297.3" x2="73.77" y2="302.2" stroke="#000" stroke-width="1.8"/>
<text transform="translate(78.27,307) rotate(-74.0)" font-size="12.0" class="tax" text-anchor="end" dy="4">C</text>
<line x1="82.98" y1="297.3" x2="82.98" y2="302.2" stroke="#000" stroke-width="1.8"/>
<text transform="translate(87.48,307) rotate(-74.0)" font-size="12.0" class="tax" text-anchor="end" dy="4">DPB1</text>
<line x1="92.2" y1="297.3" x2="92.2" y2="302.2" stroke="#000" stroke-width="1.8"/>
<text transform="translate(96.7,307) rotate(-74.0)" font-size="12.0" class="tax" text-anchor="end" dy="4">DQB1</text>
<line x1="101.42" y1="297.3" x2="101.42" y2="302.2" stroke="#000" stroke-width="1.8"/>
<text transform="translate(105.92,307) rotate(-74.0)" font-size="12.0" class="tax" text-anchor="end" dy="4">DRB1</text>
<line x1="110.64" y1="297.3" x2="110.64" y2="302.2" stroke="#000" stroke-width="1.8"/>
<text transform="translate(115.14,307) rotate(-74.0)" font-size="12.0" class="tax" text-anchor="end" dy="4">DMA</text>
<line x1="119.86" y1="297.3" x2="119.86" y2="302.2" stroke="#000" stroke-width="1.8"/>
<text transform="translate(124.36,307) rotate(-74.0)" font-size="12.0" class="tax" text-anchor="end" dy="4">DMB</text>
<line x1="129.07" y1="297.3" x2="129.07" y2="302.2" stroke="#000" stroke-width="1.8"/>
<text transform="translate(133.57,307) rotate(-74.0)" font-size="12.0" class="tax" text-anchor="end" dy="4">DOA</text>
<line x1="138.29" y1="297.3" x2="138.29" y2="302.2" stroke="#000" stroke-width="1.8"/>
<text transform="translate(142.79,307) rotate(-74.0)" font-size="12.0" class="tax" text-anchor="end" dy="4">DOB</text>
<line x1="147.51" y1="297.3" x2="147.51" y2="302.2" stroke="#000" stroke-width="1.8"/>
<text transform="translate(152.01,307) rotate(-74.0)" font-size="12.0" class="tax" text-anchor="end" dy="4">DPA1</text>
<line x1="156.73" y1="297.3" x2="156.73" y2="302.2" stroke="#000" stroke-width="1.8"/>
<text transform="translate(161.23,307) rotate(-74.0)" font-size="12.0" class="tax" text-anchor="end" dy="4">DQA1</text>
<line x1="165.94" y1="297.3" x2="165.94" y2="302.2" stroke="#000" stroke-width="1.8"/>
<text transform="translate(170.44,307) rotate(-74.0)" font-size="12.0" class="tax" text-anchor="end" dy="4">DRA</text>
<line x1="175.16" y1="297.3" x2="175.16" y2="302.2" stroke="#000" stroke-width="1.8"/>
<text transform="translate(179.66,307) rotate(-74.0)" font-size="12.0" class="tax" text-anchor="end" dy="4">E</text>
<line x1="184.38" y1="297.3" x2="184.38" y2="302.2" stroke="#000" stroke-width="1.8"/>
<text transform="translate(188.88,307) rotate(-74.0)" font-size="12.0" class="tax" text-anchor="end" dy="4">F</text>
<line x1="193.6" y1="297.3" x2="193.6" y2="302.2" stroke="#000" stroke-width="1.8"/>
<text transform="translate(198.1,307) rotate(-74.0)" font-size="12.0" class="tax" text-anchor="end" dy="4">G</text>
<line x1="202.82" y1="297.3" x2="202.82" y2="302.2" stroke="#000" stroke-width="1.8"/>
<text transform="translate(207.32,307) rotate(-74.0)" font-size="12.0" class="tax" text-anchor="end" dy="4">MICA</text>
<line x1="212.03" y1="297.3" x2="212.03" y2="302.2" stroke="#000" stroke-width="1.8"/>
<text transform="translate(216.53,307) rotate(-74.0)" font-size="12.0" class="tax" text-anchor="end" dy="4">MICB</text>
<line x1="221.25" y1="297.3" x2="221.25" y2="302.2" stroke="#000" stroke-width="1.8"/>
<text transform="translate(225.75,307) rotate(-74.0)" font-size="12.0" class="tax" text-anchor="end" dy="4">TAP1</text>
<line x1="230.47" y1="297.3" x2="230.47" y2="302.2" stroke="#000" stroke-width="1.8"/>
<text transform="translate(234.97,307) rotate(-74.0)" font-size="12.0" class="tax" text-anchor="end" dy="4">TAP2</text>
<line x1="249.52" y1="297.3" x2="249.52" y2="302.2" stroke="#000" stroke-width="1.8"/>
<text transform="translate(254.02,307) rotate(-74.0)" font-size="12.0" class="tax" text-anchor="end" dy="4">A</text>
<line x1="258.73" y1="297.3" x2="258.73" y2="302.2" stroke="#000" stroke-width="1.8"/>
<text transform="translate(263.23,307) rotate(-74.0)" font-size="12.0" class="tax" text-anchor="end" dy="4">B</text>
<line x1="267.94" y1="297.3" x2="267.94" y2="302.2" stroke="#000" stroke-width="1.8"/>
<text transform="translate(272.44,307) rotate(-74.0)" font-size="12.0" class="tax" text-anchor="end" dy="4">C</text>
<line x1="277.15" y1="297.3" x2="277.15" y2="302.2" stroke="#000" stroke-width="1.8"/>
<text transform="translate(281.65,307) rotate(-74.0)" font-size="12.0" class="tax" text-anchor="end" dy="4">DPB1</text>
<line x1="286.36" y1="297.3" x2="286.36" y2="302.2" stroke="#000" stroke-width="1.8"/>
<text transform="translate(290.86,307) rotate(-74.0)" font-size="12.0" class="tax" text-anchor="end" dy="4">DQB1</text>
<line x1="295.56" y1="297.3" x2="295.56" y2="302.2" stroke="#000" stroke-width="1.8"/>
<text transform="translate(300.06,307) rotate(-74.0)" font-size="12.0" class="tax" text-anchor="end" dy="4">DRB1</text>
<line x1="304.77" y1="297.3" x2="304.77" y2="302.2" stroke="#000" stroke-width="1.8"/>
<text transform="translate(309.27,307) rotate(-74.0)" font-size="12.0" class="tax" text-anchor="end" dy="4">DMA</text>
<line x1="313.98" y1="297.3" x2="313.98" y2="302.2" stroke="#000" stroke-width="1.8"/>
<text transform="translate(318.48,307) rotate(-74.0)" font-size="12.0" class="tax" text-anchor="end" dy="4">DMB</text>
<line x1="323.19" y1="297.3" x2="323.19" y2="302.2" stroke="#000" stroke-width="1.8"/>
<text transform="translate(327.69,307) rotate(-74.0)" font-size="12.0" class="tax" text-anchor="end" dy="4">DOA</text>
<line x1="332.4" y1="297.3" x2="332.4" y2="302.2" stroke="#000" stroke-width="1.8"/>
<text transform="translate(336.9,307) rotate(-74.0)" font-size="12.0" class="tax" text-anchor="end" dy="4">DOB</text>
<line x1="341.6" y1="297.3" x2="341.6" y2="302.2" stroke="#000" stroke-width="1.8"/>
<text transform="translate(346.1,307) rotate(-74.0)" font-size="12.0" class="tax" text-anchor="end" dy="4">DPA1</text>
<line x1="350.81" y1="297.3" x2="350.81" y2="302.2" stroke="#000" stroke-width="1.8"/>
<text transform="translate(355.31,307) rotate(-74.0)" font-size="12.0" class="tax" text-anchor="end" dy="4">DQA1</text>
<line x1="360.02" y1="297.3" x2="360.02" y2="302.2" stroke="#000" stroke-width="1.8"/>
<text transform="translate(364.52,307) rotate(-74.0)" font-size="12.0" class="tax" text-anchor="end" dy="4">DRA</text>
<line x1="369.23" y1="297.3" x2="369.23" y2="302.2" stroke="#000" stroke-width="1.8"/>
<text transform="translate(373.73,307) rotate(-74.0)" font-size="12.0" class="tax" text-anchor="end" dy="4">E</text>
<line x1="378.44" y1="297.3" x2="378.44" y2="302.2" stroke="#000" stroke-width="1.8"/>
<text transform="translate(382.94,307) rotate(-74.0)" font-size="12.0" class="tax" text-anchor="end" dy="4">F</text>
<line x1="387.64" y1="297.3" x2="387.64" y2="302.2" stroke="#000" stroke-width="1.8"/>
<text transform="translate(392.14,307) rotate(-74.0)" font-size="12.0" class="tax" text-anchor="end" dy="4">G</text>
<line x1="396.85" y1="297.3" x2="396.85" y2="302.2" stroke="#000" stroke-width="1.8"/>
<text transform="translate(401.35,307) rotate(-74.0)" font-size="12.0" class="tax" text-anchor="end" dy="4">MICA</text>
<line x1="406.06" y1="297.3" x2="406.06" y2="302.2" stroke="#000" stroke-width="1.8"/>
<text transform="translate(410.56,307) rotate(-74.0)" font-size="12.0" class="tax" text-anchor="end" dy="4">MICB</text>
<line x1="415.27" y1="297.3" x2="415.27" y2="302.2" stroke="#000" stroke-width="1.8"/>
<text transform="translate(419.77,307) rotate(-74.0)" font-size="12.0" class="tax" text-anchor="end" dy="4">TAP1</text>
<line x1="424.48" y1="297.3" x2="424.48" y2="302.2" stroke="#000" stroke-width="1.8"/>
<text transform="translate(428.98,307) rotate(-74.0)" font-size="12.0" class="tax" text-anchor="end" dy="4">TAP2</text>
<text x="239.9" y="357.1" font-size="14.9" class="ta" text-anchor="middle">Gene</text>
<text transform="translate(14.5,162) rotate(-90)" font-size="14.6" class="ta" text-anchor="middle">Percent Accuracy</text>
<text x="471.7" y="77.3" font-size="14.9" class="ta">HLA Caller</text>
<rect x="470.6" y="85.5" width="30" height="28.65" fill="#fff" stroke="#BBBBBB" stroke-width="1.25"/>
<line x1="473.5" y1="99.83" x2="497.5" y2="99.83" stroke="#66C2A5" stroke-width="1.6"/>
<polygon points="485.5,96.36 482.5,101.56 488.5,101.56" fill="none" stroke="#66C2A5" stroke-width="1.3"/>
<text x="503.4" y="104.62" font-size="12.5" class="ta">HLAProfiler</text>
<rect x="470.6" y="114.15" width="30" height="28.65" fill="#fff" stroke="#BBBBBB" stroke-width="1.25"/>
<line x1="473.5" y1="128.47" x2="497.5" y2="128.47" stroke="#FC8D62" stroke-width="1.6"/>
<circle cx="485.5" cy="128.47" r="2.4" fill="#FC8D62"/>
<text x="503.4" y="133.28" font-size="12.5" class="ta">OptiType</text>
<rect x="470.6" y="142.8" width="30" height="28.65" fill="#fff" stroke="#BBBBBB" stroke-width="1.25"/>
<line x1="473.5" y1="157.12" x2="497.5" y2="157.12" stroke="#8DA0CB" stroke-width="1.6"/>
<polygon points="485.5,154.62 488,157.12 485.5,159.62 483,157.12" fill="#8DA0CB"/>
<text x="503.4" y="161.93" font-size="12.5" class="ta">PHLAT</text>
<rect x="470.6" y="171.45" width="30" height="28.65" fill="#fff" stroke="#BBBBBB" stroke-width="1.25"/>
<line x1="473.5" y1="185.77" x2="497.5" y2="185.77" stroke="#E78AC3" stroke-width="1.6"/>
<polygon points="485.5,181.85 482.1,187.74 488.9,187.74" fill="#E78AC3"/>
<text x="503.4" y="190.57" font-size="12.5" class="ta">seq2hla</text>
<rect x="470.6" y="200.1" width="30" height="28.65" fill="#fff" stroke="#BBBBBB" stroke-width="1.25"/>
<line x1="473.5" y1="214.42" x2="497.5" y2="214.42" stroke="#A6D854" stroke-width="1.6"/>
<circle cx="485.5" cy="214.42" r="2.1" fill="#A6D854"/>
<text x="503.4" y="219.22" font-size="12.5" class="ta">HLAminer</text>
<rect x="470.6" y="228.75" width="30" height="28.65" fill="#fff" stroke="#BBBBBB" stroke-width="1.25"/>
<line x1="473.5" y1="243.07" x2="497.5" y2="243.07" stroke="#E5C494" stroke-width="1.6"/>
<rect x="482.8" y="240.38" width="5.4" height="5.4" fill="#E5C494"/>
<text x="503.4" y="247.88" font-size="12.5" class="ta">HLAForest</text>
<text transform="translate(0.2,390.7) scale(0.88,1)" font-size="23.7" class="bold">B</text>
<rect x="49.7" y="374.8" width="130" height="25.4" fill="#fff" stroke="#C4C4C4" stroke-width="1"/>
<text x="114.7" y="392" font-size="12.5" class="tb" text-anchor="middle">Initial Truth</text>
<rect x="187.3" y="374.8" width="130" height="25.4" fill="#fff" stroke="#C4C4C4" stroke-width="1"/>
<text x="252.3" y="392" font-size="12.5" class="tb" text-anchor="middle">Downsampled Reads</text>
<rect x="325" y="374.8" width="130" height="25.4" fill="#fff" stroke="#C4C4C4" stroke-width="1"/>
<text x="390" y="392" font-size="12.5" class="tb" text-anchor="middle">Updated Truth</text>
<line x1="49.7" y1="600" x2="179.7" y2="600" stroke="#F4F4F4" stroke-width="0.8"/>
<line x1="49.7" y1="524.8" x2="179.7" y2="524.8" stroke="#F4F4F4" stroke-width="0.8"/>
<line x1="49.7" y1="449.6" x2="179.7" y2="449.6" stroke="#F4F4F4" stroke-width="0.8"/>
<line x1="49.7" y1="637.6" x2="179.7" y2="637.6" stroke="#EAEAEA" stroke-width="1"/>
<line x1="49.7" y1="562.4" x2="179.7" y2="562.4" stroke="#EAEAEA" stroke-width="1"/>
<line x1="49.7" y1="487.2" x2="179.7" y2="487.2" stroke="#EAEAEA" stroke-width="1"/>
<line x1="49.7" y1="412" x2="179.7" y2="412" stroke="#EAEAEA" stroke-width="1"/>
<line x1="64.7" y1="400.2" x2="64.7" y2="672.5" stroke="#EAEAEA" stroke-width="1"/>
<line x1="89.7" y1="400.2" x2="89.7" y2="672.5" stroke="#EAEAEA" stroke-width="1"/>
<line x1="114.7" y1="400.2" x2="114.7" y2="672.5" stroke="#EAEAEA" stroke-width="1"/>
<line x1="139.7" y1="400.2" x2="139.7" y2="672.5" stroke="#EAEAEA" stroke-width="1"/>
<line x1="164.7" y1="400.2" x2="164.7" y2="672.5" stroke="#EAEAEA" stroke-width="1"/>
<line x1="187.3" y1="600" x2="317.3" y2="600" stroke="#F4F4F4" stroke-width="0.8"/>
<line x1="187.3" y1="524.8" x2="317.3" y2="524.8" stroke="#F4F4F4" stroke-width="0.8"/>
<line x1="187.3" y1="449.6" x2="317.3" y2="449.6" stroke="#F4F4F4" stroke-width="0.8"/>
<line x1="187.3" y1="637.6" x2="317.3" y2="637.6" stroke="#EAEAEA" stroke-width="1"/>
<line x1="187.3" y1="562.4" x2="317.3" y2="562.4" stroke="#EAEAEA" stroke-width="1"/>
<line x1="187.3" y1="487.2" x2="317.3" y2="487.2" stroke="#EAEAEA" stroke-width="1"/>
<line x1="187.3" y1="412" x2="317.3" y2="412" stroke="#EAEAEA" stroke-width="1"/>
<line x1="202.3" y1="400.2" x2="202.3" y2="672.5" stroke="#EAEAEA" stroke-width="1"/>
<line x1="227.3" y1="400.2" x2="227.3" y2="672.5" stroke="#EAEAEA" stroke-width="1"/>
<line x1="252.3" y1="400.2" x2="252.3" y2="672.5" stroke="#EAEAEA" stroke-width="1"/>
<line x1="277.3" y1="400.2" x2="277.3" y2="672.5" stroke="#EAEAEA" stroke-width="1"/>
<line x1="302.3" y1="400.2" x2="302.3" y2="672.5" stroke="#EAEAEA" stroke-width="1"/>
<line x1="325" y1="600" x2="455" y2="600" stroke="#F4F4F4" stroke-width="0.8"/>
<line x1="325" y1="524.8" x2="455" y2="524.8" stroke="#F4F4F4" stroke-width="0.8"/>
<line x1="325" y1="449.6" x2="455" y2="449.6" stroke="#F4F4F4" stroke-width="0.8"/>
<line x1="325" y1="637.6" x2="455" y2="637.6" stroke="#EAEAEA" stroke-width="1"/>
<line x1="325" y1="562.4" x2="455" y2="562.4" stroke="#EAEAEA" stroke-width="1"/>
<line x1="325" y1="487.2" x2="455" y2="487.2" stroke="#EAEAEA" stroke-width="1"/>
<line x1="325" y1="412" x2="455" y2="412" stroke="#EAEAEA" stroke-width="1"/>
<line x1="340" y1="400.2" x2="340" y2="672.5" stroke="#EAEAEA" stroke-width="1"/>
<line x1="365" y1="400.2" x2="365" y2="672.5" stroke="#EAEAEA" stroke-width="1"/>
<line x1="390" y1="400.2" x2="390" y2="672.5" stroke="#EAEAEA" stroke-width="1"/>
<line x1="415" y1="400.2" x2="415" y2="672.5" stroke="#EAEAEA" stroke-width="1"/>
<line x1="440" y1="400.2" x2="440" y2="672.5" stroke="#EAEAEA" stroke-width="1"/>
<line x1="45.6" y1="637.6" x2="49.7" y2="637.6" stroke="#000" stroke-width="1.8"/>
<text x="42.8" y="642.6" font-size="12.3" class="tb" text-anchor="end">70</text>
<line x1="45.6" y1="562.4" x2="49.7" y2="562.4" stroke="#000" stroke-width="1.8"/>
<text x="42.8" y="567.4" font-size="12.3" class="tb" text-anchor="end">80</text>
<line x1="45.6" y1="487.2" x2="49.7" y2="487.2" stroke="#000" stroke-width="1.8"/>
<text x="42.8" y="492.2" font-size="12.3" class="tb" text-anchor="end">90</text>
<line x1="45.6" y1="412" x2="49.7" y2="412" stroke="#000" stroke-width="1.8"/>
<text x="42.8" y="417" font-size="12.3" class="tb" text-anchor="end">100</text>
<svg x="49.7" y="400.2" width="130" height="272.3" viewBox="49.7 400.2 130 272.3" overflow="hidden">
<polyline points="64.7,414.26 89.7,424.78 114.7,420.27 139.7,418.02 164.7,418.02" fill="none" stroke="#66C2A5" stroke-width="1.9" stroke-linejoin="round"/>
<polyline points="64.7,416.51 89.7,422.53 114.7,417.26" fill="none" stroke="#FC8D62" stroke-width="1.9" stroke-linejoin="round"/>
<polyline points="64.7,418.02 89.7,467.65 114.7,460.13 139.7,447.34 164.7,422.53" fill="none" stroke="#8DA0CB" stroke-width="1.9" stroke-linejoin="round"/>
<polyline points="64.7,424.03 89.7,454.11 114.7,447.34 139.7,475.17 164.7,542.85" fill="none" stroke="#E78AC3" stroke-width="1.9" stroke-linejoin="round"/>
<polyline points="64.7,482.69 89.7,604.51 114.7,599.25 139.7,518.78 164.7,492.46" fill="none" stroke="#E5C494" stroke-width="1.9" stroke-linejoin="round"/>
<polyline points="64.7,554.13 89.7,639.1 114.7,639.1 139.7,564.66 164.7,541.34" fill="none" stroke="#A6D854" stroke-width="1.9" stroke-linejoin="round"/>
<polygon points="64.7,410.33 61.3,416.22 68.1,416.22" fill="none" stroke="#66C2A5" stroke-width="1.35"/><polygon points="89.7,420.86 86.3,426.75 93.1,426.75" fill="none" stroke="#66C2A5" stroke-width="1.35"/><polygon points="114.7,416.35 111.3,422.23 118.1,422.23" fill="none" stroke="#66C2A5" stroke-width="1.35"/><polygon points="139.7,414.09 136.3,419.98 143.1,419.98" fill="none" stroke="#66C2A5" stroke-width="1.35"/><polygon points="164.7,414.09 161.3,419.98 168.1,419.98" fill="none" stroke="#66C2A5" stroke-width="1.35"/>
<circle cx="64.7" cy="416.51" r="3.1" fill="#FC8D62"/><circle cx="89.7" cy="422.53" r="3.1" fill="#FC8D62"/><circle cx="114.7" cy="417.26" r="3.1" fill="#FC8D62"/>
<polygon points="64.7,415.62 67.1,418.02 64.7,420.42 62.3,418.02" fill="#8DA0CB"/><polygon points="89.7,465.25 92.1,467.65 89.7,470.05 87.3,467.65" fill="#8DA0CB"/><polygon points="114.7,457.73 117.1,460.13 114.7,462.53 112.3,460.13" fill="#8DA0CB"/><polygon points="139.7,444.94 142.1,447.34 139.7,449.74 137.3,447.34" fill="#8DA0CB"/><polygon points="164.7,420.13 167.1,422.53 164.7,424.93 162.3,422.53" fill="#8DA0CB"/>
<polygon points="64.7,419.99 61.2,426.05 68.2,426.05" fill="#E78AC3"/><polygon points="89.7,450.07 86.2,456.13 93.2,456.13" fill="#E78AC3"/><polygon points="114.7,443.3 111.2,449.36 118.2,449.36" fill="#E78AC3"/><polygon points="139.7,471.13 136.2,477.19 143.2,477.19" fill="#E78AC3"/><polygon points="164.7,538.81 161.2,544.87 168.2,544.87" fill="#E78AC3"/>
<rect x="62.8" y="480.79" width="3.8" height="3.8" fill="#E5C494"/><rect x="87.8" y="602.61" width="3.8" height="3.8" fill="#E5C494"/><rect x="112.8" y="597.35" width="3.8" height="3.8" fill="#E5C494"/><rect x="137.8" y="516.88" width="3.8" height="3.8" fill="#E5C494"/><rect x="162.8" y="490.56" width="3.8" height="3.8" fill="#E5C494"/>
<rect x="62.2" y="551.63" width="5" height="5" fill="#A6D854"/><rect x="87.2" y="636.6" width="5" height="5" fill="#A6D854"/><rect x="112.2" y="636.6" width="5" height="5" fill="#A6D854"/><rect x="137.2" y="562.16" width="5" height="5" fill="#A6D854"/><rect x="162.2" y="538.84" width="5" height="5" fill="#A6D854"/>
</svg>
<rect x="49.7" y="400.2" width="130" height="272.3" fill="none" stroke="#858585" stroke-width="1.1"/>
<line x1="64.7" y1="672.5" x2="64.7" y2="676.6" stroke="#000" stroke-width="1.8"/>
<text transform="translate(68.7,681.5) rotate(-76)" font-size="12.3" class="tbx" text-anchor="end" dy="4">A</text>
<line x1="89.7" y1="672.5" x2="89.7" y2="676.6" stroke="#000" stroke-width="1.8"/>
<text transform="translate(93.7,681.5) rotate(-76)" font-size="12.3" class="tbx" text-anchor="end" dy="4">B</text>
<line x1="114.7" y1="672.5" x2="114.7" y2="676.6" stroke="#000" stroke-width="1.8"/>
<text transform="translate(118.7,681.5) rotate(-76)" font-size="12.3" class="tbx" text-anchor="end" dy="4">C</text>
<line x1="139.7" y1="672.5" x2="139.7" y2="676.6" stroke="#000" stroke-width="1.8"/>
<text transform="translate(143.7,681.5) rotate(-76)" font-size="12.3" class="tbx" text-anchor="end" dy="4">DQB1</text>
<line x1="164.7" y1="672.5" x2="164.7" y2="676.6" stroke="#000" stroke-width="1.8"/>
<text transform="translate(168.7,681.5) rotate(-76)" font-size="12.3" class="tbx" text-anchor="end" dy="4">DRB1</text>
<svg x="187.3" y="400.2" width="130" height="272.3" viewBox="187.3 400.2 130 272.3" overflow="hidden">
<polyline points="202.3,416.51 227.3,438.32 252.3,427.04 277.3,419.52 302.3,420.27" fill="none" stroke="#66C2A5" stroke-width="1.9" stroke-linejoin="round"/>
<polyline points="202.3,416.51 227.3,427.04 252.3,417.26" fill="none" stroke="#FC8D62" stroke-width="1.9" stroke-linejoin="round"/>
<polyline points="202.3,422.53 227.3,460.13 252.3,457.12 277.3,445.84 302.3,433.81" fill="none" stroke="#8DA0CB" stroke-width="1.9" stroke-linejoin="round"/>
<polyline points="202.3,426.29 227.3,453.36 252.3,452.61 277.3,577.44 302.3,476.67" fill="none" stroke="#E78AC3" stroke-width="1.9" stroke-linejoin="round"/>
<polyline points="202.3,485.7 227.3,606.02 252.3,612.78 277.3,515.78 302.3,496.98" fill="none" stroke="#E5C494" stroke-width="1.9" stroke-linejoin="round"/>
<polyline points="202.3,552.62 227.3,630.08 252.3,660.16 277.3,593.98 302.3,595.49" fill="none" stroke="#A6D854" stroke-width="1.9" stroke-linejoin="round"/>
<polygon points="202.3,412.59 198.9,418.47 205.7,418.47" fill="none" stroke="#66C2A5" stroke-width="1.35"/><polygon points="227.3,434.39 223.9,440.28 230.7,440.28" fill="none" stroke="#66C2A5" stroke-width="1.35"/><polygon points="252.3,423.11 248.9,429 255.7,429" fill="none" stroke="#66C2A5" stroke-width="1.35"/><polygon points="277.3,415.59 273.9,421.48 280.7,421.48" fill="none" stroke="#66C2A5" stroke-width="1.35"/><polygon points="302.3,416.35 298.9,422.23 305.7,422.23" fill="none" stroke="#66C2A5" stroke-width="1.35"/>
<circle cx="202.3" cy="416.51" r="3.1" fill="#FC8D62"/><circle cx="227.3" cy="427.04" r="3.1" fill="#FC8D62"/><circle cx="252.3" cy="417.26" r="3.1" fill="#FC8D62"/>
<polygon points="202.3,420.13 204.7,422.53 202.3,424.93 199.9,422.53" fill="#8DA0CB"/><polygon points="227.3,457.73 229.7,460.13 227.3,462.53 224.9,460.13" fill="#8DA0CB"/><polygon points="252.3,454.72 254.7,457.12 252.3,459.52 249.9,457.12" fill="#8DA0CB"/><polygon points="277.3,443.44 279.7,445.84 277.3,448.24 274.9,445.84" fill="#8DA0CB"/><polygon points="302.3,431.41 304.7,433.81 302.3,436.21 299.9,433.81" fill="#8DA0CB"/>
<polygon points="202.3,422.25 198.8,428.31 205.8,428.31" fill="#E78AC3"/><polygon points="227.3,449.32 223.8,455.38 230.8,455.38" fill="#E78AC3"/><polygon points="252.3,448.57 248.8,454.63 255.8,454.63" fill="#E78AC3"/><polygon points="277.3,573.4 273.8,579.46 280.8,579.46" fill="#E78AC3"/><polygon points="302.3,472.63 298.8,478.69 305.8,478.69" fill="#E78AC3"/>
<rect x="200.4" y="483.8" width="3.8" height="3.8" fill="#E5C494"/><rect x="225.4" y="604.12" width="3.8" height="3.8" fill="#E5C494"/><rect x="250.4" y="610.88" width="3.8" height="3.8" fill="#E5C494"/><rect x="275.4" y="513.88" width="3.8" height="3.8" fill="#E5C494"/><rect x="300.4" y="495.08" width="3.8" height="3.8" fill="#E5C494"/>
<rect x="199.8" y="550.12" width="5" height="5" fill="#A6D854"/><rect x="224.8" y="627.58" width="5" height="5" fill="#A6D854"/><rect x="249.8" y="657.66" width="5" height="5" fill="#A6D854"/><rect x="274.8" y="591.48" width="5" height="5" fill="#A6D854"/><rect x="299.8" y="592.99" width="5" height="5" fill="#A6D854"/>
</svg>
<rect x="187.3" y="400.2" width="130" height="272.3" fill="none" stroke="#858585" stroke-width="1.1"/>
<line x1="202.3" y1="672.5" x2="202.3" y2="676.6" stroke="#000" stroke-width="1.8"/>
<text transform="translate(206.3,681.5) rotate(-76)" font-size="12.3" class="tbx" text-anchor="end" dy="4">A</text>
<line x1="227.3" y1="672.5" x2="227.3" y2="676.6" stroke="#000" stroke-width="1.8"/>
<text transform="translate(231.3,681.5) rotate(-76)" font-size="12.3" class="tbx" text-anchor="end" dy="4">B</text>
<line x1="252.3" y1="672.5" x2="252.3" y2="676.6" stroke="#000" stroke-width="1.8"/>
<text transform="translate(256.3,681.5) rotate(-76)" font-size="12.3" class="tbx" text-anchor="end" dy="4">C</text>
<line x1="277.3" y1="672.5" x2="277.3" y2="676.6" stroke="#000" stroke-width="1.8"/>
<text transform="translate(281.3,681.5) rotate(-76)" font-size="12.3" class="tbx" text-anchor="end" dy="4">DQB1</text>
<line x1="302.3" y1="672.5" x2="302.3" y2="676.6" stroke="#000" stroke-width="1.8"/>
<text transform="translate(306.3,681.5) rotate(-76)" font-size="12.3" class="tbx" text-anchor="end" dy="4">DRB1</text>
<svg x="325" y="400.2" width="130" height="272.3" viewBox="325 400.2 130 272.3" overflow="hidden">
<polyline points="340,412 365,418.77 390,415.76 415,412 440,414.26" fill="none" stroke="#66C2A5" stroke-width="1.9" stroke-linejoin="round"/>
<polyline points="340,413.5 365,415.76 390,412" fill="none" stroke="#FC8D62" stroke-width="1.9" stroke-linejoin="round"/>
<polyline points="340,415.76 365,461.63 390,454.86 415,442.08 440,423.28" fill="none" stroke="#8DA0CB" stroke-width="1.9" stroke-linejoin="round"/>
<polyline points="340,422.53 365,450.35 390,448.85 415,475.17 440,539.84" fill="none" stroke="#E78AC3" stroke-width="1.9" stroke-linejoin="round"/>
<polyline points="340,482.69 365,599.25 390,599.25 415,515.02 440,491.71" fill="none" stroke="#E5C494" stroke-width="1.9" stroke-linejoin="round"/>
<polyline points="340,555.63 365,634.59 390,639.86 415,562.4 440,539.09" fill="none" stroke="#A6D854" stroke-width="1.9" stroke-linejoin="round"/>
<polyline points="340,415.01 365,418.77 390,417.26 415,420.27 440,416.51" fill="none" stroke="#B3B3B3" stroke-width="1.9" stroke-linejoin="round"/>
<polygon points="340,408.07 336.6,413.96 343.4,413.96" fill="none" stroke="#66C2A5" stroke-width="1.35"/><polygon points="365,414.84 361.6,420.73 368.4,420.73" fill="none" stroke="#66C2A5" stroke-width="1.35"/><polygon points="390,411.83 386.6,417.72 393.4,417.72" fill="none" stroke="#66C2A5" stroke-width="1.35"/><polygon points="415,408.07 411.6,413.96 418.4,413.96" fill="none" stroke="#66C2A5" stroke-width="1.35"/><polygon points="440,410.33 436.6,416.22 443.4,416.22" fill="none" stroke="#66C2A5" stroke-width="1.35"/>
<circle cx="340" cy="413.5" r="3.1" fill="#FC8D62"/><circle cx="365" cy="415.76" r="3.1" fill="#FC8D62"/><circle cx="390" cy="412" r="3.1" fill="#FC8D62"/>
<polygon points="340,413.36 342.4,415.76 340,418.16 337.6,415.76" fill="#8DA0CB"/><polygon points="365,459.23 367.4,461.63 365,464.03 362.6,461.63" fill="#8DA0CB"/><polygon points="390,452.46 392.4,454.86 390,457.26 387.6,454.86" fill="#8DA0CB"/><polygon points="415,439.68 417.4,442.08 415,444.48 412.6,442.08" fill="#8DA0CB"/><polygon points="440,420.88 442.4,423.28 440,425.68 437.6,423.28" fill="#8DA0CB"/>
<polygon points="340,418.49 336.5,424.55 343.5,424.55" fill="#E78AC3"/><polygon points="365,446.31 361.5,452.37 368.5,452.37" fill="#E78AC3"/><polygon points="390,444.81 386.5,450.87 393.5,450.87" fill="#E78AC3"/><polygon points="415,471.13 411.5,477.19 418.5,477.19" fill="#E78AC3"/><polygon points="440,535.8 436.5,541.86 443.5,541.86" fill="#E78AC3"/>
<rect x="338.1" y="480.79" width="3.8" height="3.8" fill="#E5C494"/><rect x="363.1" y="597.35" width="3.8" height="3.8" fill="#E5C494"/><rect x="388.1" y="597.35" width="3.8" height="3.8" fill="#E5C494"/><rect x="413.1" y="513.12" width="3.8" height="3.8" fill="#E5C494"/><rect x="438.1" y="489.81" width="3.8" height="3.8" fill="#E5C494"/>
<rect x="337.5" y="553.13" width="5" height="5" fill="#A6D854"/><rect x="362.5" y="632.09" width="5" height="5" fill="#A6D854"/><rect x="387.5" y="637.36" width="5" height="5" fill="#A6D854"/><rect x="412.5" y="559.9" width="5" height="5" fill="#A6D854"/><rect x="437.5" y="536.59" width="5" height="5" fill="#A6D854"/>
<circle cx="340" cy="415.01" r="3.3" fill="#B3B3B3"/><circle cx="365" cy="418.77" r="3.3" fill="#B3B3B3"/><circle cx="390" cy="417.26" r="3.3" fill="#B3B3B3"/><circle cx="415" cy="420.27" r="3.3" fill="#B3B3B3"/><circle cx="440" cy="416.51" r="3.3" fill="#B3B3B3"/>
</svg>
<rect x="325" y="400.2" width="130" height="272.3" fill="none" stroke="#858585" stroke-width="1.1"/>
<line x1="340" y1="672.5" x2="340" y2="676.6" stroke="#000" stroke-width="1.8"/>
<text transform="translate(344,681.5) rotate(-76)" font-size="12.3" class="tbx" text-anchor="end" dy="4">A</text>
<line x1="365" y1="672.5" x2="365" y2="676.6" stroke="#000" stroke-width="1.8"/>
<text transform="translate(369,681.5) rotate(-76)" font-size="12.3" class="tbx" text-anchor="end" dy="4">B</text>
<line x1="390" y1="672.5" x2="390" y2="676.6" stroke="#000" stroke-width="1.8"/>
<text transform="translate(394,681.5) rotate(-76)" font-size="12.3" class="tbx" text-anchor="end" dy="4">C</text>
<line x1="415" y1="672.5" x2="415" y2="676.6" stroke="#000" stroke-width="1.8"/>
<text transform="translate(419,681.5) rotate(-76)" font-size="12.3" class="tbx" text-anchor="end" dy="4">DQB1</text>
<line x1="440" y1="672.5" x2="440" y2="676.6" stroke="#000" stroke-width="1.8"/>
<text transform="translate(444,681.5) rotate(-76)" font-size="12.3" class="tbx" text-anchor="end" dy="4">DRB1</text>
<text x="252.5" y="732.3" font-size="15" class="tb" text-anchor="middle">Gene</text>
<text transform="translate(15.6,536.5) rotate(-90)" font-size="15" class="tb" text-anchor="middle">Percent Concordance</text>
<text x="471.7" y="437.6" font-size="14.9" class="tb">HLA Caller</text>
<rect x="470.6" y="445.6" width="30" height="28.7" fill="#fff" stroke="#BBBBBB" stroke-width="1.25"/>
<line x1="473.5" y1="459.95" x2="497.5" y2="459.95" stroke="#66C2A5" stroke-width="1.6"/>
<polygon points="485.5,456.02 482.1,461.91 488.9,461.91" fill="none" stroke="#66C2A5" stroke-width="1.35"/>
<text x="503.4" y="464.75" font-size="12.5" class="tb">HLAProfiler</text>
<rect x="470.6" y="474.3" width="30" height="28.7" fill="#fff" stroke="#BBBBBB" stroke-width="1.25"/>
<line x1="473.5" y1="488.65" x2="497.5" y2="488.65" stroke="#FC8D62" stroke-width="1.6"/>
<circle cx="485.5" cy="488.65" r="3.1" fill="#FC8D62"/>
<text x="503.4" y="493.45" font-size="12.5" class="tb">OptiType</text>
<rect x="470.6" y="503" width="30" height="28.7" fill="#fff" stroke="#BBBBBB" stroke-width="1.25"/>
<line x1="473.5" y1="517.35" x2="497.5" y2="517.35" stroke="#8DA0CB" stroke-width="1.6"/>
<polygon points="485.5,514.95 487.9,517.35 485.5,519.75 483.1,517.35" fill="#8DA0CB"/>
<text x="503.4" y="522.15" font-size="12.5" class="tb">PHLAT</text>
<rect x="470.6" y="531.7" width="30" height="28.7" fill="#fff" stroke="#BBBBBB" stroke-width="1.25"/>
<line x1="473.5" y1="546.05" x2="497.5" y2="546.05" stroke="#E78AC3" stroke-width="1.6"/>
<polygon points="485.5,542.01 482,548.07 489,548.07" fill="#E78AC3"/>
<text x="503.4" y="550.85" font-size="12.5" class="tb">seq2hla</text>
<rect x="470.6" y="560.4" width="30" height="28.7" fill="#fff" stroke="#BBBBBB" stroke-width="1.25"/>
<line x1="473.5" y1="574.75" x2="497.5" y2="574.75" stroke="#E5C494" stroke-width="1.6"/>
<rect x="483.6" y="572.85" width="3.8" height="3.8" fill="#E5C494"/>
<text x="503.4" y="579.55" font-size="12.5" class="tb">HLAForest</text>
<rect x="470.6" y="589.1" width="30" height="28.7" fill="#fff" stroke="#BBBBBB" stroke-width="1.25"/>
<line x1="473.5" y1="603.45" x2="497.5" y2="603.45" stroke="#A6D854" stroke-width="1.6"/>
<rect x="483" y="600.95" width="5" height="5" fill="#A6D854"/>
<text x="503.4" y="608.25" font-size="12.5" class="tb">HLAminer</text>
<rect x="470.6" y="617.8" width="30" height="28.7" fill="#fff" stroke="#BBBBBB" stroke-width="1.25"/>
<line x1="473.5" y1="632.15" x2="497.5" y2="632.15" stroke="#B3B3B3" stroke-width="1.6"/>
<circle cx="485.5" cy="632.15" r="3.3" fill="#B3B3B3"/>
<text x="503.4" y="636.95" font-size="12.5" class="tb">Sanger</text>
</svg></body></html>
